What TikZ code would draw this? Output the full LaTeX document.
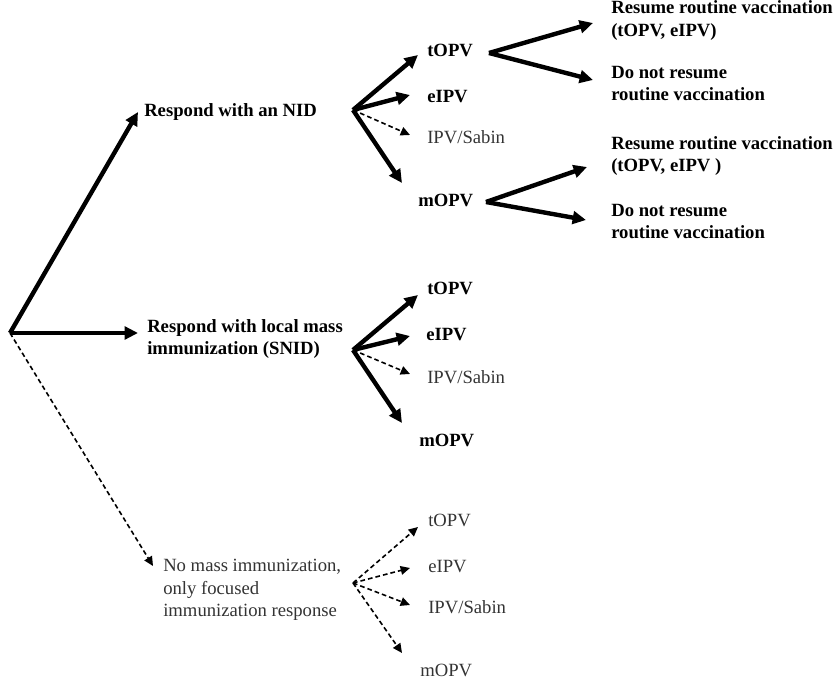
\documentclass[tikz,border=0pt]{standalone}
\usepackage{fontspec}
\setmainfont{Liberation Serif}
\usetikzlibrary{arrows.meta}
\begin{document}
\begin{tikzpicture}[x=0.75pt,y=-0.75pt,
  lbl/.style={anchor=west,inner sep=0pt,align=left,font=\fontsize{14}{17}\selectfont\bfseries},
  lblg/.style={anchor=west,inner sep=0pt,align=left,font=\fontsize{14}{17}\selectfont,text=black!80},
  bold arrow/.style={line width=3.3pt,-{Triangle[length=10pt,width=9.5pt]}},
  dash arrow/.style={line width=1.2pt,dash pattern=on 3.5pt off 2.3pt,-{Triangle[length=7pt,width=6.5pt]}},
]
\useasboundingbox (0,0) rectangle (835,680);

% decision point and first-level responses
\coordinate (root) at (10,333);
\coordinate (nidTip) at (138,112);
\coordinate (snidTip) at (138,333);
\coordinate (focTip) at (153,566);
\node[lbl] (nid) at (144,112) {Respond with an NID};
\node[lbl] (snid) at (147,339) {Respond with local mass\\immunization (SNID)};
\node[lblg] (foc) at (163,590) {No mass immunization,\\only focused\\immunization response};
\draw[bold arrow] (root) -- (nidTip);
\draw[bold arrow] (root) -- (snidTip);
\draw[dash arrow] (root) -- (focTip);

% vaccine choices after an NID
\coordinate (nidV) at (353,110);
\coordinate (nidT1) at (418,55);
\coordinate (nidT2) at (410,95);
\coordinate (nidT3) at (410,135);
\coordinate (nidT4) at (402,183);
\node[lbl] (nidA) at (427,50) {tOPV};
\node[lbl] (nidB) at (427,97) {eIPV};
\node[lblg] (nidC) at (427,137) {IPV/Sabin};
\node[lbl] (nidD) at (418,200) {mOPV};
\draw[bold arrow] (nidV) -- (nidT1);
\draw[bold arrow] (nidV) -- (nidT2);
\draw[dash arrow] (nidV) -- (nidT3);
\draw[bold arrow] (nidV) -- (nidT4);

% routine vaccination after tOPV
\coordinate (tV) at (489,53);
\coordinate (tT1) at (593,23);
\coordinate (tT2) at (593,80);
\node[lbl] (tR) at (611,20.5) {Resume routine vaccination\\(tOPV, eIPV)};
\node[lbl] (tN) at (611,83.5) {Do not resume\\routine vaccination};
\draw[bold arrow] (tV) -- (tT1);
\draw[bold arrow] (tV) -- (tT2);

% routine vaccination after mOPV
\coordinate (mV) at (486,202);
\coordinate (mT1) at (587,167);
\coordinate (mT2) at (586,220);
\node[lbl] (mR) at (611,156) {Resume routine vaccination\\(tOPV, eIPV )};
\node[lbl] (mN) at (611,221.5) {Do not resume\\routine vaccination};
\draw[bold arrow] (mV) -- (mT1);
\draw[bold arrow] (mV) -- (mT2);

% vaccine choices after an SNID
\coordinate (snV) at (353,350);
\coordinate (snT1) at (418,295);
\coordinate (snT2) at (410,336);
\coordinate (snT3) at (410,374);
\coordinate (snT4) at (402,423);
\node[lbl] (snA) at (427,288) {tOPV};
\node[lbl] (snB) at (426,335) {eIPV};
\node[lblg] (snC) at (427,377) {IPV/Sabin};
\node[lbl] (snD) at (419,440) {mOPV};
\draw[bold arrow] (snV) -- (snT1);
\draw[bold arrow] (snV) -- (snT2);
\draw[dash arrow] (snV) -- (snT3);
\draw[bold arrow] (snV) -- (snT4);

% vaccine choices with focused response only
\coordinate (fV) at (353,583);
\coordinate (fT1) at (418,527);
\coordinate (fT2) at (410,568);
\coordinate (fT3) at (410,605);
\coordinate (fT4) at (402,653);
\node[lblg] (fA) at (428,520) {tOPV};
\node[lblg] (fB) at (428,567) {eIPV};
\node[lblg] (fC) at (428,607) {IPV/Sabin};
\node[lblg] (fD) at (420,670) {mOPV};
\draw[dash arrow] (fV) -- (fT1);
\draw[dash arrow] (fV) -- (fT2);
\draw[dash arrow] (fV) -- (fT3);
\draw[dash arrow] (fV) -- (fT4);
\end{tikzpicture}
\end{document}
